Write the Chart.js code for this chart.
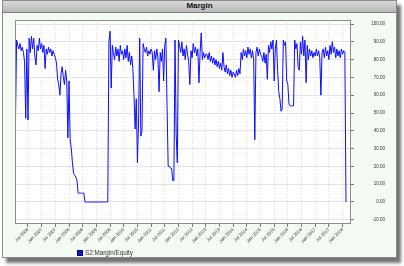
<!DOCTYPE html>
<html>
<head>
<meta charset="utf-8">
<script src="https://cdn.jsdelivr.net/npm/chart.js@4"></script>
<style>
  html, body { margin: 0; padding: 0; background: #fff; }
  #wrap { position: relative; width: 404px; height: 266px; overflow: hidden; }
  #panel { position: absolute; left: 2px; top: 0; width: 393px; height: 256px; background: #f4fbf2;
           border: 1px solid #8a8a8a; box-shadow: 4px 5px 3px rgba(0,0,0,0.55); }
  #title { position: absolute; left: 0; top: 0; right: 0; height: 11px; line-height: 11px;
           background: linear-gradient(#dadada, #b9b9b9); border-bottom: 1px solid #7a7a7a;
           font: bold 8px "Liberation Sans", Arial, sans-serif; text-align: center; color: #111; }
  canvas { position: absolute; left: 0; top: 0; }
  #legend { position: absolute; left: 77px; top: 249px; font: 6.3px "Liberation Sans", Arial, sans-serif;
            color: #333; white-space: nowrap; }
  #legend span { display: inline-block; width: 4px; height: 4px; background: #1414d8; border: 0.5px solid #000080;
                 margin-right: 2px; vertical-align: -0.5px; }
</style>
</head>
<body>
<div id="wrap">
  <div id="panel"><div id="title">Margin</div></div>
  <canvas id="chart" width="404" height="266"></canvas>
  <div id="legend"><span></span>S2:Margin/Equity</div>
</div>
<script>
// semi-monthly readings (15th and 1st), one row per year starting Jan 15
var margin2006 = [45,91,88,86,89,85,87,84,79,47,86,46,92,84,93,86,92,82,77,88,85,92,86,89];
var margin2007 = [84,88,75,86,83,87,84,86,82,85,83,81,78,69,66,60,72,76,70,66,74,68,36,68];
var margin2008 = [35,30,22,16,15,14,12,5,5,5,5,5,5,0,0,0,0,0,0,0,0,0,0,0];
var margin2009 = [0,0,0,0,0,0,0,0,0,0,90,96,64,88,84,80,87,82,86,79,88,83,85,80];
var margin2010 = [86,81,88,79,84,77,82,75,60,41,58,22,45,92,37,40,89,86,84,87,82,85,83,86];
var margin2011 = [84,74,85,80,86,81,62,84,79,86,68,88,92,54,20,20,19,19,12,12,91,38,22,91];
var margin2012 = [88,84,90,82,86,80,88,83,79,66,85,81,89,84,87,82,86,67,84,95,80,84,81,83];
var margin2013 = [83,80,84,79,82,78,81,77,80,76,79,75,78,74,84,76,73,77,72,75,71,74,70,73];
var margin2014 = [72,70,74,71,75,72,84,80,86,82,85,81,87,83,86,81,85,80,35,84,87,82,86,83];
var margin2015 = [82,79,84,78,83,69,88,84,90,86,91,68,86,91,74,62,58,51,52,91,88,90,68,66];
var margin2016 = [55,54,54,54,54,91,86,89,76,74,90,83,93,82,91,67,88,80,86,82,85,81,84,82];
var margin2017 = [86,82,85,81,60,84,86,81,87,82,85,80,88,83,90,84,87,81,86,82,85,81,86,83];
var margin2018 = [85,84,0];

var xTickLabels = ['Jul 2006','Jan 2007','Jul 2007','Jan 2008','Jul 2008','Jan 2009','Jul 2009','Jan 2010',
  'Jul 2010','Jan 2011','Jul 2011','Jan 2012','Jul 2012','Jan 2013','Jul 2013','Jan 2014','Jul 2014',
  'Jan 2015','Jul 2015','Jan 2016','Jul 2016','Jan 2017','Jul 2017','Jan 2018'];
var yTicks = [-10,0,10,20,30,40,50,60,70,80,90,100];

var allValues = [].concat(margin2006, margin2007, margin2008, margin2009, margin2010, margin2011,
  margin2012, margin2013, margin2014, margin2015, margin2016, margin2017, margin2018);
// x = months since 1 Jan 2006
var points = allValues.map(function (v, i) { return { x: (i + 1) / 2, y: v }; });

var plotFrame = {
  id: 'plotFrame',
  beforeDraw: function (chart) {
    var a = chart.chartArea, c = chart.ctx;
    c.save();
    c.fillStyle = '#ffffff';
    c.fillRect(a.left, a.top, a.right - a.left, a.bottom - a.top);
    c.restore();
  },
  afterDraw: function (chart) {
    var a = chart.chartArea, c = chart.ctx;
    c.save();
    c.strokeStyle = '#8c8c8c';
    c.lineWidth = 1;
    c.strokeRect(Math.round(a.left) + 0.5, Math.round(a.top) + 0.5,
                 Math.round(a.right - a.left) - 1, Math.round(a.bottom - a.top) - 1);
    c.restore();
  }
};

new Chart(document.getElementById('chart'), {
  type: 'line',
  data: {
    datasets: [{
      label: 'S2:Margin/Equity',
      data: points,
      borderColor: '#0c0cff',
      borderWidth: 1,
      pointRadius: 0,
      tension: 0,
      fill: false
    }]
  },
  options: {
    responsive: false,
    animation: false,
    devicePixelRatio: 1,
    layout: { padding: { left: 15, top: 20, right: 19, bottom: 20 } },
    plugins: { legend: { display: false }, tooltip: { enabled: false } },
    scales: {
      x: {
        type: 'linear',
        min: 0.3,
        max: 147.7,
        afterBuildTicks: function (s) {
          s.ticks = xTickLabels.map(function (_, k) { return { value: 6 * (k + 1) }; });
        },
        afterFit: function (s) { s.height = 22; },
        ticks: {
          autoSkip: false,
          minRotation: 45,
          maxRotation: 45,
          padding: 0,
          color: '#333',
          font: { family: 'Liberation Sans, Arial, sans-serif', size: 4.5 },
          callback: function (v) { return xTickLabels[v / 6 - 1]; }
        },
        grid: { color: '#d6d6d6', tickColor: '#777', tickLength: 3 },
        border: { display: false, dash: [1, 2] }
      },
      y: {
        position: 'right',
        min: -12.36,
        max: 102.25,
        afterBuildTicks: function (s) {
          s.ticks = yTicks.map(function (v) { return { value: v }; });
        },
        afterFit: function (s) { s.width = 34; },
        ticks: {
          crossAlign: 'far',
          color: '#333',
          font: { family: 'Liberation Sans, Arial, sans-serif', size: 4.5 },
          callback: function (v) { return v.toFixed(2); }
        },
        grid: { color: '#e3e3e3', tickColor: '#777', tickLength: 3 },
        border: { display: false }
      }
    }
  },
  plugins: [plotFrame]
});
</script>
</body>
</html>
